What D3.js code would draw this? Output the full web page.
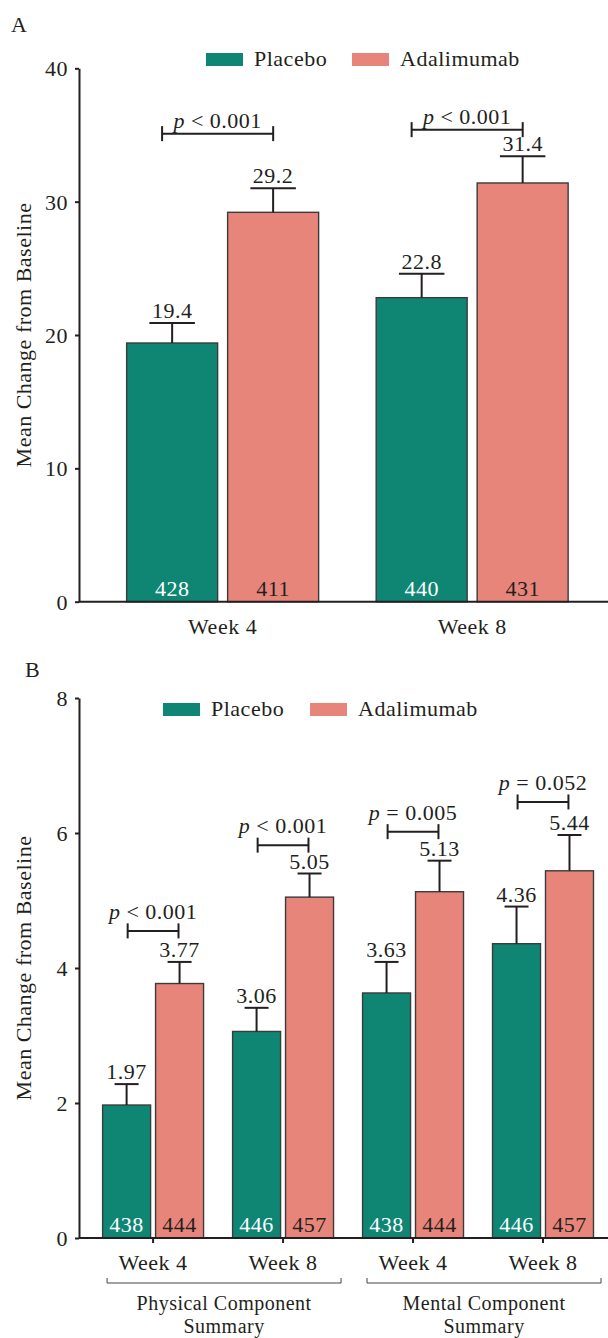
<!DOCTYPE html>
<html>
<head>
<meta charset="utf-8">
<script src="https://cdn.jsdelivr.net/npm/d3@7"></script>
<style>
  html, body { margin: 0; padding: 0; background: #ffffff; }
  svg { display: block; }
  text { font-family: "Liberation Serif", "Times New Roman", serif; fill: #231f20; letter-spacing: 0.5px; }
</style>
</head>
<body>
<div id="chart"></div>
<script>
// ---------- DATA ----------
const seriesNames = ["Placebo", "Adalimumab"];

// Panel A
const panelACategories = ["Week 4", "Week 8"];
const panelAPlacebo = [19.4, 22.8];
const panelAAdalimumab = [29.2, 31.4];
const panelAPlaceboErr = [1.5, 1.8];
const panelAAdalimumabErr = [1.8, 2.0];
const panelAPlaceboN = [428, 440];
const panelAAdalimumabN = [411, 431];
const panelAPText = ["< 0.001", "< 0.001"];
const panelAPLevel = [35.1, 35.4];
const panelAYTicks = [0, 10, 20, 30, 40];

// Panel B
const panelBCategories = ["PCS Week 4", "PCS Week 8", "MCS Week 4", "MCS Week 8"];
const panelBTickLabels = ["Week 4", "Week 8", "Week 4", "Week 8"];
const panelBPlacebo = [1.97, 3.06, 3.63, 4.36];
const panelBAdalimumab = [3.77, 5.05, 5.13, 5.44];
const panelBPlaceboErr = [0.31, 0.35, 0.46, 0.55];
const panelBAdalimumabErr = [0.32, 0.35, 0.46, 0.53];
const panelBPlaceboN = [438, 446, 438, 446];
const panelBAdalimumabN = [444, 457, 444, 457];
const panelBPText = ["< 0.001", "< 0.001", "= 0.005", "= 0.052"];
const panelBPLevel = [4.55, 5.82, 6.02, 6.46];
const panelBYTicks = [0, 2, 4, 6, 8];
const panelBGroups = [
  { lines: ["Physical Component", "Summary"], members: ["PCS Week 4", "PCS Week 8"] },
  { lines: ["Mental Component", "Summary"], members: ["MCS Week 4", "MCS Week 8"] }
];

const yTitle = "Mean Change from Baseline";

// ---------- STYLE ----------
const W = 608, H = 1338;
const colors = { "Placebo": "#0f8674", "Adalimumab": "#e8857b" };
const ink = "#231f20";
const fontSize = 22;

const svg = d3.select("#chart").append("svg")
  .attr("width", W).attr("height", H)
  .style("font-size", fontSize + "px");

function drawPanel(cfg) {
  const g = svg.append("g");
  const y = d3.scaleLinear().domain(cfg.yDomain).range([cfg.bottom, cfg.top]);
  const x = d3.scaleBand().domain(cfg.categories).range([cfg.left, cfg.right])
    .paddingInner(0).paddingOuter(cfg.outer).align(cfg.align);
  const xs = d3.scaleBand().domain(seriesNames).range([0, x.bandwidth()])
    .paddingInner(cfg.subInner).paddingOuter(cfg.subOuter);

  const recs = [];
  cfg.categories.forEach((c, i) => {
    seriesNames.forEach((s, j) => {
      recs.push({
        cat: c, series: s,
        v: j === 0 ? cfg.placebo[i] : cfg.adal[i],
        e: j === 0 ? cfg.placeboErr[i] : cfg.adalErr[i],
        n: j === 0 ? cfg.placeboN[i] : cfg.adalN[i]
      });
    });
  });

  // bars
  g.selectAll("rect.bar").data(recs).join("rect")
    .attr("class", "bar")
    .attr("x", d => x(d.cat) + xs(d.series))
    .attr("y", d => y(d.v))
    .attr("width", xs.bandwidth())
    .attr("height", d => y(0) - y(d.v))
    .attr("fill", d => colors[d.series])
    .attr("stroke", "#3b3b3b")
    .attr("stroke-width", 1.4);

  // error bars
  const cx = d => x(d.cat) + xs(d.series) + xs.bandwidth() / 2;
  const capHalf = xs.bandwidth() / 4;
  const eb = g.append("g").attr("stroke", ink).attr("stroke-width", 2);
  eb.selectAll("line.v").data(recs).join("line")
    .attr("x1", cx).attr("x2", cx)
    .attr("y1", d => y(d.v)).attr("y2", d => y(d.v + d.e));
  eb.selectAll("line.c").data(recs).join("line")
    .attr("x1", d => cx(d) - capHalf).attr("x2", d => cx(d) + capHalf)
    .attr("y1", d => y(d.v + d.e)).attr("y2", d => y(d.v + d.e));

  // value labels
  g.selectAll("text.val").data(recs).join("text")
    .attr("x", cx).attr("y", d => y(d.v + d.e) - 5)
    .attr("text-anchor", "middle")
    .text(d => cfg.fmt(d.v));

  // n labels
  g.selectAll("text.n").data(recs).join("text")
    .attr("x", cx).attr("y", y(0) - 6)
    .attr("text-anchor", "middle")
    .style("fill", d => d.series === "Placebo" ? "#ffffff" : ink)
    .text(d => d.n);

  // p-value brackets
  const gc = c => x(c) + x.bandwidth() / 2;
  const bHalf = xs.step() * cfg.bracketScale / 2;
  cfg.categories.forEach((c, i) => {
    const yy = y(cfg.pLevel[i]);
    const bx0 = gc(c) - bHalf + cfg.bracketShift, bx1 = gc(c) + bHalf + cfg.bracketShift;
    const bg = g.append("g").attr("stroke", ink).attr("stroke-width", 2);
    bg.append("line").attr("x1", bx0).attr("x2", bx1).attr("y1", yy).attr("y2", yy);
    bg.append("line").attr("x1", bx0).attr("x2", bx0).attr("y1", yy - 7.5).attr("y2", yy + 7.5);
    bg.append("line").attr("x1", bx1).attr("x2", bx1).attr("y1", yy - 7.5).attr("y2", yy + 7.5);
    const t = g.append("text").attr("x", (bx0 + bx1) / 2).attr("y", yy - cfg.pGap)
      .attr("text-anchor", "middle");
    t.append("tspan").style("font-style", "italic").text("p");
    t.append("tspan").text(" " + cfg.pText[i]);
  });

  // y axis
  const ya = g.append("g").attr("transform", `translate(${cfg.left},0)`)
    .call(d3.axisLeft(y).tickValues(cfg.yTicks).tickSize(4).tickSizeOuter(0).tickPadding(7));
  ya.select(".domain").attr("stroke", ink).attr("stroke-width", 2);
  ya.selectAll(".tick line").attr("stroke", ink).attr("stroke-width", 2);
  ya.selectAll("text").style("font-size", fontSize + "px")
    .attr("fill", ink).attr("dy", "0.34em");

  // x axis
  const xa = g.append("g").attr("transform", `translate(0,${y(0)})`)
    .call(d3.axisBottom(x).tickSize(cfg.xTickSize).tickSizeOuter(0)
      .tickFormat((d, i) => cfg.tickLabels[i]));
  xa.select(".domain").remove();
  xa.append("line").attr("x1", cfg.left).attr("x2", cfg.right)
    .attr("stroke", ink).attr("stroke-width", 2);
  xa.selectAll(".tick line").attr("stroke", ink).attr("stroke-width", 2);
  xa.selectAll("text").style("font-size", fontSize + "px")
    .attr("fill", ink).attr("y", 32).attr("dy", 0);

  // y title
  g.append("text")
    .attr("transform", `translate(${cfg.titleX},${(y(cfg.yDomain[0]) + y(cfg.yDomain[1])) / 2}) rotate(-90)`)
    .attr("text-anchor", "middle")
    .text(yTitle);

  // panel letter
  g.append("text").attr("x", cfg.letterX).attr("y", cfg.letterY).text(cfg.letter);

  // legend
  const lg = g.append("g");
  seriesNames.forEach((s, j) => {
    const lx = cfg.legendX[j];
    lg.append("rect").attr("x", lx).attr("y", cfg.legendY).attr("width", 37).attr("height", 13)
      .attr("fill", colors[s]);
    lg.append("text").attr("x", lx + 48).attr("y", cfg.legendY + 13).text(s);
  });

  return { x, y };
}

// Panel A
drawPanel({
  categories: panelACategories, tickLabels: panelACategories,
  placebo: panelAPlacebo, adal: panelAAdalimumab,
  placeboErr: panelAPlaceboErr, adalErr: panelAAdalimumabErr,
  placeboN: panelAPlaceboN, adalN: panelAAdalimumabN,
  pText: panelAPText, pLevel: panelAPLevel, yTicks: panelAYTicks,
  yDomain: [0, 40], top: 68.3, bottom: 601.7, left: 79, right: 608,
  outer: 0.06, align: 0.63, subInner: 0.099, subOuter: 0.285,
  bracketScale: 1.1, bracketShift: -5, pGap: 6, xTickSize: 0,
  fmt: d3.format(".1f"),
  titleX: 31, letter: "A", letterX: 11, letterY: 32,
  legendX: [206, 352], legendY: 53
});

// Panel B
const pb = drawPanel({
  categories: panelBCategories, tickLabels: panelBTickLabels,
  placebo: panelBPlacebo, adal: panelBAdalimumab,
  placeboErr: panelBPlaceboErr, adalErr: panelBAdalimumabErr,
  placeboN: panelBPlaceboN, adalN: panelBAdalimumabN,
  pText: panelBPText, pLevel: panelBPLevel, yTicks: panelBYTicks,
  yDomain: [0, 8], top: 698, bottom: 1238, left: 79, right: 608,
  outer: 0.035, align: 1, subInner: 0.094, subOuter: 0.274,
  bracketScale: 0.96, bracketShift: 0, pGap: 12, xTickSize: 5,
  fmt: d3.format(".2f"),
  titleX: 31, letter: "B", letterX: 25, letterY: 677,
  legendX: [163, 310], legendY: 703
});

// Group brackets under panel B
const gb = svg.append("g");
const gy = pb.y(0) + 45;
panelBGroups.forEach(grp => {
  const c0 = pb.x(grp.members[0]) + pb.x.bandwidth() / 2;
  const c1 = pb.x(grp.members[grp.members.length - 1]) + pb.x.bandwidth() / 2;
  const x0 = c0 - 46, x1 = Math.min(c1 + 58, W - 1);
  gb.append("path")
    .attr("d", `M${x0},${gy - 5}V${gy}H${x1}V${gy - 5}`)
    .attr("fill", "none").attr("stroke", "#444").attr("stroke-width", 1);
  const t = gb.append("text").attr("text-anchor", "middle").style("font-size", "20px");
  grp.lines.forEach((ln, k) => {
    t.append("tspan").attr("x", (x0 + x1) / 2).attr("y", gy + 27 + k * 23).text(ln);
  });
});
</script>
</body>
</html>
